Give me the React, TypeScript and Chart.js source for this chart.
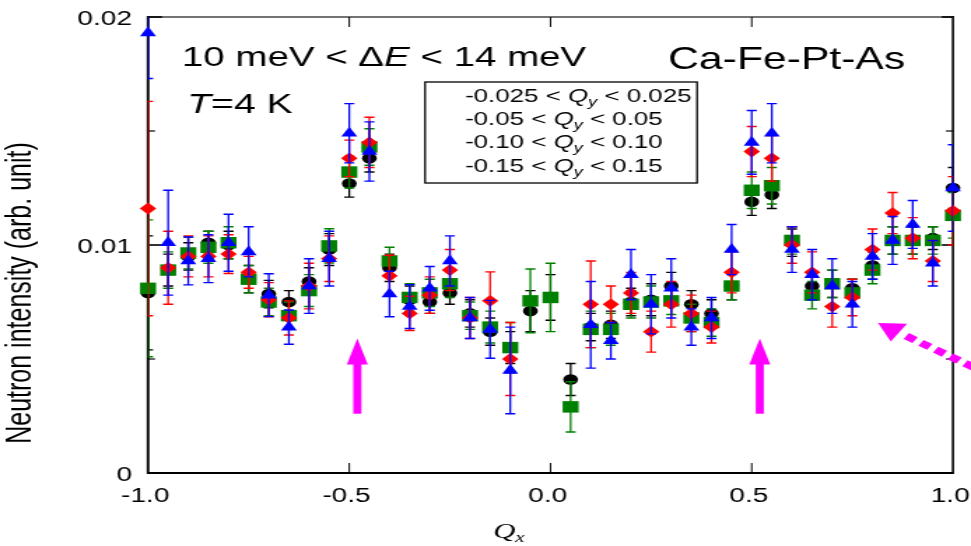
import React, { useEffect, useRef } from "react";
import { Chart, registerables } from "chart.js";

Chart.register(...registerables);

// ---------------- data ----------------
const qx = [
  -1.0, -0.95, -0.9, -0.85, -0.8, -0.75, -0.7, -0.65, -0.6, -0.55,
  -0.5, -0.45, -0.4, -0.35, -0.3, -0.25, -0.2, -0.15, -0.1, -0.05,
  0.0, 0.05, 0.1, 0.15, 0.2, 0.25, 0.3, 0.35, 0.4, 0.45,
  0.5, 0.55, 0.6, 0.65, 0.7, 0.75, 0.8, 0.85, 0.9, 0.95, 1.0,
];

// -0.025 < Qy < 0.025 (black circles)
const blackY = [
  0.0079, 0.0089, 0.0095, 0.0101, 0.0100, 0.0085, 0.00785, 0.0075, 0.0084, 0.0098,
  0.0127, 0.0138, 0.0090, 0.0076, 0.0075, 0.0079, 0.0070, 0.0062, 0.0055, 0.0071,
  0.0077, 0.0041, 0.0064, 0.0065, 0.0075, 0.0076, 0.0082, 0.0074, 0.0070, 0.0082,
  0.0119, 0.0122, 0.0101, 0.0082, 0.0083, 0.0081, 0.0091, 0.0102, 0.0102, 0.0103, 0.0125,
];
const blackErr = [
  0.0025, 0.0007, 0.0006, 0.0005, 0.0006, 0.0006, 0.0006, 0.0005, 0.0006, 0.0007,
  0.0006, 0.0006, 0.0006, 0.0006, 0.0005, 0.0005, 0.0006, 0.0006, 0.0007, 0.0009,
  0.0010, 0.0007, 0.0006, 0.0006, 0.0006, 0.0007, 0.0006, 0.0006, 0.0006, 0.0006,
  0.0006, 0.0006, 0.0006, 0.0006, 0.0006, 0.0004, 0.0006, 0.0006, 0.0006, 0.0005, 0.0009,
];

// -0.05 < Qy < 0.05 (red diamonds)
const redY = [
  0.0116, 0.0090, 0.0095, 0.0095, 0.0096, 0.0088, 0.0076, 0.0068, 0.0082, 0.0094,
  0.0138, 0.0145, 0.00865, 0.0070, 0.0078, 0.0089, 0.0068, 0.00755, 0.0050, null,
  null, null, 0.0074, 0.0074, 0.0079, 0.0062, 0.0074, 0.0070, 0.0064, 0.0088,
  0.0141, 0.0138, 0.0100, 0.0088, 0.0073, 0.0077, 0.0098, 0.0114, 0.0103, 0.0093, 0.0115,
];
const redErr = [
  0.0047, 0.0016, 0.0009, 0.0009, 0.00085, 0.0007, 0.00075, 0.00075, 0.0010, 0.0010,
  0.0008, 0.0011, 0.0009, 0.00075, 0.0008, 0.0009, 0.0009, 0.00127, 0.0016, null,
  null, null, 0.0019, 0.0008, 0.0009, 0.0009, 0.0010, 0.0008, 0.0007, 0.0009,
  0.0011, 0.0010, 0.0008, 0.0009, 0.0009, 0.0008, 0.0009, 0.0009, 0.0009, 0.0009, 0.0015,
];

// -0.10 < Qy < 0.10 (green squares)
const greenY = [
  0.0081, 0.0089, 0.00965, 0.0099, 0.0101, 0.0085, 0.0075, 0.0069, 0.0080, 0.00996,
  0.0132, 0.0143, 0.0093, 0.0077, 0.0079, 0.0083, 0.0069, 0.0064, 0.0055, 0.00755,
  0.0077, 0.0029, 0.0063, 0.0063, 0.0074, 0.0075, 0.00755, 0.0068, 0.0066, 0.0082,
  0.0124, 0.0126, 0.0102, 0.0078, 0.0083, 0.0079, 0.0089, 0.0102, 0.0102, 0.0102, 0.0113,
];
const greenErr = [
  0.0030, 0.0008, 0.0007, 0.0007, 0.0007, 0.0006, 0.0006, 0.0006, 0.0007, 0.00075,
  0.0007, 0.0008, 0.0006, 0.0006, 0.0006, 0.0006, 0.0006, 0.0007, 0.0011, 0.0014,
  0.0015, 0.0011, 0.0008, 0.0007, 0.0006, 0.0007, 0.0006, 0.0006, 0.0006, 0.0006,
  0.0008, 0.0008, 0.0006, 0.0006, 0.0006, 0.0006, 0.0006, 0.0006, 0.0006, 0.0006, 0.0010,
];

// -0.15 < Qy < 0.15 (blue triangles)
const blueY = [
  0.0193, 0.0101, 0.0093, 0.0094, 0.0101, 0.0097, 0.0078, 0.0064, 0.0082, 0.0094,
  0.0149, 0.0141, 0.00785, 0.0073, 0.0081, 0.0093, 0.0068, 0.0063, 0.0045, null,
  null, null, 0.0065, 0.0058, 0.0087, 0.0074, 0.0081, 0.0064, 0.0068, 0.0098,
  0.0145, 0.0149, 0.0098, 0.0087, 0.0082, 0.0074, 0.0095, 0.0102, 0.0109, 0.0092, 0.0125,
];
const blueErr = [
  0.0020, 0.0023, 0.00105, 0.00105, 0.00125, 0.0011, 0.00094, 0.00075, 0.0012, 0.0012,
  0.0013, 0.0013, 0.0010, 0.00096, 0.00096, 0.0011, 0.0009, 0.00127, 0.0019, null,
  null, null, 0.0019, 0.0008, 0.0011, 0.0013, 0.0013, 0.0008, 0.0009, 0.0011,
  0.0014, 0.0013, 0.0010, 0.0011, 0.0012, 0.0010, 0.0010, 0.00105, 0.00105, 0.0010, 0.0019,
];

const xTickValues = [-1.0, -0.5, 0.0, 0.5, 1.0];
const xTickLabels = ["-1.0", "-0.5", "0.0", "0.5", "1.0"];
const yTickValues = [0, 0.01, 0.02];
const yTickLabels = ["0", "0.01", "0.02"];
const yMinorTicks = [0.005, 0.015];
const xInnerTicks = [-0.5, 0.0, 0.5];

const legendLow = ["-0.025", "-0.05", "-0.10", "-0.15"];
const legendHigh = ["0.025", "0.05", "0.10", "0.15"];

const arrowXs = [-0.48, 0.52];
const arrowTipY = 0.0059;
const arrowBaseY = 0.0026;
const dashedArrowTip = [0.814, 0.00658];
const dashedArrowTail = [1.056, 0.0046];

// ---------------- layout ----------------
const W = 694;
const H = 546;
const CSS_W = 971;
const SANS = "'Liberation Sans', Arial, Helvetica, sans-serif";
const SERIF = "'Liberation Serif', 'Times New Roman', serif";

type Seg = { t: string; f: string; dy?: number };
function drawSegs(ctx: CanvasRenderingContext2D, x: number, y: number, segs: Seg[]) {
  let cx = x;
  for (const s of segs) {
    ctx.font = s.f;
    ctx.fillText(s.t, cx, y + (s.dy || 0));
    cx += ctx.measureText(s.t).width;
  }
}

function line(ctx: CanvasRenderingContext2D, x1: number, y1: number, x2: number, y2: number) {
  ctx.beginPath();
  ctx.moveTo(x1, y1);
  ctx.lineTo(x2, y2);
  ctx.stroke();
}

const decor = {
  id: "decor",
  beforeDatasetsDraw(chart: any) {
    const { ctx, chartArea: a, scales } = chart;
    const xs = scales.x, ys = scales.y;
    ctx.save();
    ctx.strokeStyle = "#000";
    // frame
    ctx.lineWidth = 1.9;
    line(ctx, a.left, a.top - 1, a.left, a.bottom + 1);
    ctx.lineWidth = 1.6;
    line(ctx, a.right, a.top - 1, a.right, a.bottom + 1);
    ctx.lineWidth = 2;
    line(ctx, a.left, a.bottom, a.right, a.bottom);
    ctx.strokeStyle = "#444";
    ctx.lineWidth = 1.5;
    line(ctx, a.left, a.top, a.right, a.top);
    // y ticks
    ctx.strokeStyle = "#000";
    ctx.lineWidth = 1.6;
    for (const v of yTickValues) {
      const y = ys.getPixelForValue(v);
      line(ctx, a.left, y, a.left + 10, y);
      line(ctx, a.right, y, a.right - 8, y);
    }
    ctx.lineWidth = 1.2;
    for (const v of yMinorTicks) {
      const y = ys.getPixelForValue(v);
      line(ctx, a.left, y, a.left + 5, y);
      line(ctx, a.right, y, a.right - 5, y);
    }
    // x ticks
    ctx.lineWidth = 1;
    for (const v of xInnerTicks) {
      const x = xs.getPixelForValue(v);
      line(ctx, x, a.bottom, x, a.bottom - 10);
      line(ctx, x, a.top, x, a.top + 10);
    }
    ctx.restore();
  },
  beforeDatasetDraw(chart: any, args: any) {
    const { ctx, chartArea: a, scales } = chart;
    const ds = chart.data.datasets[args.index];
    const xs = scales.x, ys = scales.y;
    ctx.save();
    ctx.beginPath();
    ctx.rect(a.left, a.top, a.right - a.left, a.bottom - a.top);
    ctx.clip();
    ctx.strokeStyle = ds.errColor;
    for (const p of ds.data) {
      const x = xs.getPixelForValue(p.x);
      const y1 = ys.getPixelForValue(p.y + p.e);
      const y2 = ys.getPixelForValue(p.y - p.e);
      ctx.lineWidth = 1.3;
      line(ctx, x, y1, x, y2);
      ctx.lineWidth = 1.4;
      line(ctx, x - 3.6, y1, x + 3.6, y1);
      line(ctx, x - 3.6, y2, x + 3.6, y2);
    }
    ctx.restore();
  },
  afterDraw(chart: any) {
    const { ctx, chartArea: a, scales } = chart;
    const xs = scales.x, ys = scales.y;
    ctx.save();
    ctx.fillStyle = "#000";
    // tick labels
    ctx.font = `20px ${SANS}`;
    ctx.textAlign = "center";
    ctx.textBaseline = "alphabetic";
    xTickValues.forEach((v, i) => {
      ctx.fillText(xTickLabels[i], xs.getPixelForValue(v) - 2, 502);
    });
    ctx.textAlign = "right";
    ctx.textBaseline = "middle";
    yTickValues.forEach((v, i) => {
      ctx.fillText(yTickLabels[i], a.left - 11.5, ys.getPixelForValue(v) + 2);
    });
    // axis titles
    ctx.save();
    ctx.translate(15, 293);
    ctx.rotate(-Math.PI / 2);
    ctx.textAlign = "center";
    ctx.textBaseline = "middle";
    ctx.font = `25px ${SANS}`;
    ctx.fillText("Neutron intensity (arb. unit)", 0, 0);
    ctx.restore();
    ctx.textAlign = "left";
    ctx.textBaseline = "alphabetic";
    drawSegs(ctx, 352.4, 538, [
      { t: "Q", f: `italic 22px ${SERIF}` },
      { t: "x", f: `italic 15px ${SERIF}`, dy: 4 },
    ]);
    // annotations
    const big = `27.5px ${SANS}`;
    const bigI = `italic 27.5px ${SANS}`;
    drawSegs(ctx, 130, 66, [
      { t: "10 meV < Δ", f: big },
      { t: "E", f: bigI },
      { t: " < 14 meV", f: big },
    ]);
    drawSegs(ctx, 133.7, 113, [
      { t: "T", f: `italic 28px ${SANS}` },
      { t: "=4 K", f: `28px ${SANS}` },
    ]);
    ctx.font = `30.5px ${SANS}`;
    ctx.fillText("Ca-Fe-Pt-As", 477.5, 69);
    // legend box
    ctx.strokeStyle = "#000";
    ctx.lineWidth = 1.3;
    ctx.strokeRect(303.8, 82, 194.4, 101);
    const lb = [102, 125, 148, 171.7];
    legendLow.forEach((lo, i) => {
      drawSegs(ctx, 332.4, lb[i], [
        { t: `${lo} < `, f: `18.5px ${SANS}` },
        { t: "Q", f: `italic 18.5px ${SANS}` },
        { t: "y", f: `italic 13px ${SANS}`, dy: 4 },
        { t: ` < ${legendHigh[i]}`, f: `18.5px ${SANS}` },
      ]);
    });
    // magenta vertical arrows
    ctx.fillStyle = "#ff00ff";
    for (const av of arrowXs) {
      const x = xs.getPixelForValue(av);
      const yt = ys.getPixelForValue(arrowTipY);
      const yb = ys.getPixelForValue(arrowBaseY);
      const headL = 26, headW = 15, shaftW = 5.8;
      ctx.beginPath();
      ctx.moveTo(x, yt);
      ctx.lineTo(x + headW / 2, yt + headL);
      ctx.lineTo(x - headW / 2, yt + headL);
      ctx.closePath();
      ctx.fill();
      ctx.fillRect(x - shaftW / 2, yt + headL - 1, shaftW, yb - yt - headL + 1);
    }
    // dashed arrow
    const tx = xs.getPixelForValue(dashedArrowTip[0]);
    const ty = ys.getPixelForValue(dashedArrowTip[1]);
    const ex = xs.getPixelForValue(dashedArrowTail[0]);
    const ey = ys.getPixelForValue(dashedArrowTail[1]);
    const dx = ex - tx, dy = ey - ty;
    const len = Math.hypot(dx, dy);
    const ux = dx / len, uy = dy / len, nx = -uy, ny = ux;
    const L = 17.7, hw = 10.7;
    ctx.beginPath();
    ctx.moveTo(tx, ty);
    ctx.lineTo(tx + ux * L + nx * hw, ty + uy * L + ny * hw);
    ctx.lineTo(tx + ux * L - nx * hw, ty + uy * L - ny * hw);
    ctx.closePath();
    ctx.fill();
    ctx.strokeStyle = "#ff00ff";
    ctx.lineWidth = 7;
    ctx.lineCap = "butt";
    ctx.setLineDash([7.5, 5]);
    ctx.beginPath();
    ctx.moveTo(tx + ux * 24, ty + uy * 24);
    ctx.lineTo(ex, ey);
    ctx.stroke();
    ctx.restore();
  },
};

function build(vals: (number | null)[], errs: (number | null)[]) {
  const out: { x: number; y: number; e: number }[] = [];
  qx.forEach((x, i) => {
    const v = vals[i];
    const e = errs[i];
    if (v !== null && v !== undefined) out.push({ x, y: v, e: e ?? 0 });
  });
  return out;
}

export default function App() {
  const ref = useRef<HTMLCanvasElement | null>(null);
  useEffect(() => {
    if (!ref.current) return;
    const mk = (label: string, vals: any, errs: any, color: string, style: string, r: number, order: number) => ({
      label,
      data: build(vals, errs),
      backgroundColor: color,
      borderColor: color,
      errColor: color,
      pointStyle: style,
      pointRadius: r,
      pointBorderWidth: 0,
      showLine: false,
      clip: false as any,
      order,
    });
    const chart = new Chart(ref.current, {
      type: "scatter",
      data: {
        datasets: [
          mk("-0.025 < Qy < 0.025", blackY, blackErr, "#000000", "circle", 5.3, 4),
          mk("-0.05 < Qy < 0.05", redY, redErr, "#ff0000", "rectRot", 5.9, 2),
          mk("-0.10 < Qy < 0.10", greenY, greenErr, "#008000", "rect", 8.1, 3),
          mk("-0.15 < Qy < 0.15", blueY, blueErr, "#0000ff", "triangle", 6.6, 1),
        ] as any,
      },
      options: {
        animation: false,
        responsive: false,
        maintainAspectRatio: false,
        devicePixelRatio: 1,
        layout: { padding: { left: 105.8, right: 12.9, top: 17, bottom: 73 } },
        plugins: { legend: { display: false }, tooltip: { enabled: false } },
        scales: {
          x: { type: "linear", min: -1, max: 1, display: false },
          y: { type: "linear", min: 0, max: 0.02, display: false },
        },
      },
      plugins: [decor as any],
    });
    return () => chart.destroy();
  }, []);
  return (
    <div style={{ position: "absolute", left: 0, top: 0, width: CSS_W, height: H, background: "#fff" }}>
      <canvas ref={ref} width={W} height={H} style={{ width: `${CSS_W}px`, height: `${H}px`, display: "block" }} />
    </div>
  );
}
